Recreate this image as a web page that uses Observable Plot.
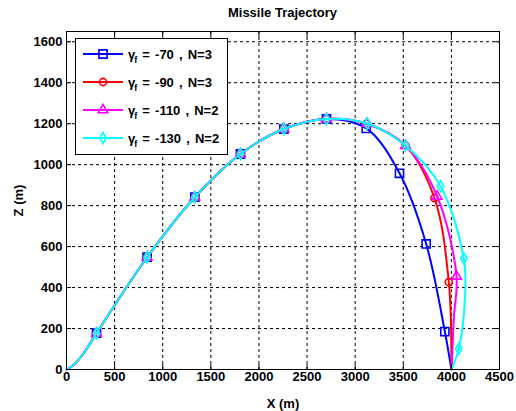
<!DOCTYPE html>
<html><head><meta charset="utf-8">
<script src="https://cdn.jsdelivr.net/npm/d3@7"></script>
<script src="https://cdn.jsdelivr.net/npm/@observablehq/plot@0.6"></script>
<style>
body{margin:0;background:#fff;font-family:"Liberation Sans",Arial,sans-serif;}
#wrap{position:relative;width:516px;height:411px;}
#title{position:absolute;left:66px;width:433px;top:5px;text-align:center;font-weight:bold;font-size:13px;color:#000;}
#legend{position:absolute;left:75px;top:38px;width:153px;height:117px;background:#fff;border:1px solid #000;box-sizing:border-box;}
.row{position:absolute;left:0;height:16px;display:flex;align-items:center;font-weight:bold;font-size:13px;white-space:nowrap;color:#000;}
.row svg{display:block;margin-left:7px;}
.row span{margin-left:5px;word-spacing:1.5px;}
.row sub{font-size:9px;vertical-align:-4px;line-height:0;margin-left:-1px;}
</style></head>
<body><div id="wrap"><div id="title">Missile Trajectory</div></div>
<script>
const xTicks = [0, 500, 1000, 1500, 2000, 2500, 3000, 3500, 4000, 4500];
const yTicks = [0, 200, 400, 600, 800, 1000, 1200, 1400, 1600];

const gammaF = ["-70", "-90", "-110", "-130"];
const navN = ["3", "3", "2", "2"];
const colors = ["#0000ff", "#ff0000", "#ff00ff", "#00ffff"];
const symbols = ["square", "circle", "triangle", "diamond"];

// shared climb segment
const ascentX = [0, 80, 177, 312, 838, 1334, 1808, 2259, 2702];
const ascentZ = [0, 25, 78, 177, 548, 841, 1052, 1174, 1223];
const ascentMarkX = [312, 838, 1334, 1808, 2259, 2702];
const ascentMarkZ = [177, 548, 841, 1052, 1174, 1223];

// terminal segments
const blueX = [3115, 3461, 3738, 3932, 4000];
const blueZ = [1177, 958, 613, 185, 0];
const blueMarkX = [3115, 3461, 3738, 3932];
const blueMarkZ = [1177, 958, 613, 185];

const redX = [3120, 3523, 3824, 3973, 4000];
const redZ = [1200, 1093, 837, 426, 0];
const redMarkX = [3120, 3523, 3824, 3973];
const redMarkZ = [1200, 1093, 837, 426];

const magentaX = [3122, 3523, 3852, 4053, 4026, 4003];
const magentaZ = [1200, 1093, 845, 455, 255, 0];
const magentaMarkX = [3122, 3523, 3852, 4053];
const magentaMarkZ = [1200, 1093, 845, 455];

const cyanX = [3125, 3523, 3887, 4129, 4140, 4077, 4000];
const cyanZ = [1201, 1093, 894, 543, 340, 101, 0];
const cyanMarkX = [3125, 3523, 3887, 4129, 4077];
const cyanMarkZ = [1201, 1093, 894, 543, 101];

const zip = (xs, zs) => xs.map((x, i) => ({x, z: zs[i]}));
const tails = [[blueX, blueZ], [redX, redZ], [magentaX, magentaZ], [cyanX, cyanZ]];
const tailMarks = [[blueMarkX, blueMarkZ], [redMarkX, redMarkZ], [magentaMarkX, magentaMarkZ], [cyanMarkX, cyanMarkZ]];
const radii = [4.6, 3.6, 3.6, 3.4];

const marks = [
  Plot.gridX(xTicks, {stroke: "#000", strokeOpacity: 1, strokeWidth: 1, strokeDasharray: "3,3"}),
  Plot.gridY(yTicks, {stroke: "#000", strokeOpacity: 1, strokeWidth: 1, strokeDasharray: "3,3"})
];
tails.forEach((t, i) => {
  const path = zip(ascentX, ascentZ).concat(zip(t[0], t[1]));
  const mk = zip(ascentMarkX, ascentMarkZ).concat(zip(tailMarks[i][0], tailMarks[i][1]));
  marks.push(Plot.line(path, {x: "x", y: "z", stroke: colors[i], strokeWidth: 2, curve: "catmull-rom"}));
  marks.push(Plot.dot(mk, {x: "x", y: "z", stroke: colors[i], strokeWidth: 1.6, symbol: symbols[i], r: radii[i], fill: "none"}));
});
marks.push(
  Plot.frame({stroke: "#000"}),
  Plot.axisX(xTicks, {anchor: "bottom", tickSize: 5, dy: -5, fill: "none", label: null}),
  Plot.axisX(xTicks, {anchor: "top", tickSize: 5, dy: 5, fill: "none", label: null}),
  Plot.axisY(yTicks, {anchor: "left", tickSize: 5, dx: 5, fill: "none", label: null}),
  Plot.axisY(yTicks, {anchor: "right", tickSize: 5, dx: -5, fill: "none", label: null}),
  Plot.axisX(xTicks, {anchor: "bottom", tickSize: 0, tickPadding: 2, stroke: "none", fill: "#000",
    label: "X (m)", labelAnchor: "center", labelOffset: 38, labelArrow: "none", tickFormat: d => String(d)}),
  Plot.axisY(yTicks, {anchor: "left", tickSize: 0, tickPadding: 4, stroke: "none", fill: "#000",
    label: "Z (m)", labelAnchor: "center", labelOffset: 53, labelArrow: "none", tickFormat: d => String(d)})
);

const chart = Plot.plot({
  width: 516, height: 411,
  marginLeft: 66, marginRight: 17, marginTop: 31, marginBottom: 42,
  x: {domain: [0, 4500]},
  y: {domain: [0, 1650]},
  style: {fontFamily: '"Liberation Sans", Arial, sans-serif', fontSize: "13px", fontWeight: "bold", color: "#000", background: "#fff", overflow: "visible"},
  marks
});
const wrap = document.getElementById("wrap");
wrap.insertBefore(chart, wrap.firstChild);

// legend
const legend = document.createElement("div");
legend.id = "legend";
gammaF.forEach((g, i) => {
  const row = document.createElement("div");
  row.className = "row";
  row.style.top = (7 + i * 28) + "px";
  const svg = d3.create("svg").attr("width", 40).attr("height", 16);
  svg.append("line").attr("x1", 0).attr("x2", 40).attr("y1", 8).attr("y2", 8)
    .attr("stroke", colors[i]).attr("stroke-width", 2);
  const sym = {square: d3.symbolSquare, circle: d3.symbolCircle, triangle: d3.symbolTriangle, diamond: d3.symbolDiamond}[symbols[i]];
  svg.append("path").attr("transform", "translate(20,8)")
    .attr("d", d3.symbol(sym, Math.PI * radii[i] * radii[i])())
    .attr("fill", "none").attr("stroke", colors[i]).attr("stroke-width", 1.6);
  row.appendChild(svg.node());
  const span = document.createElement("span");
  span.innerHTML = "γ<sub>f</sub> = " + g + " , N=" + navN[i];
  row.appendChild(span);
  legend.appendChild(row);
});
wrap.appendChild(legend);
</script>
</body></html>
